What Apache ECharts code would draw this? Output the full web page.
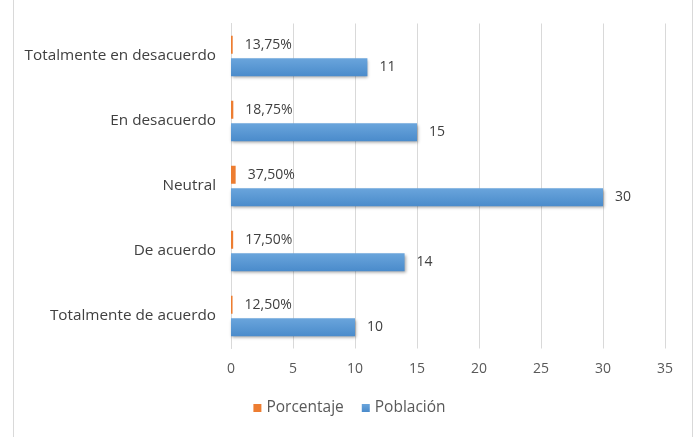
<!DOCTYPE html>
<html><head><meta charset="utf-8">
<script src="https://cdn.jsdelivr.net/npm/echarts@6/dist/echarts.min.js"></script>
<style>html,body{margin:0;padding:0;background:#fff}#c{width:699px;height:437px}</style>
</head><body><div id="c"></div>
<script>
const categories = ['Totalmente en desacuerdo', 'En desacuerdo', 'Neutral', 'De acuerdo', 'Totalmente de acuerdo'];
const porcentaje = [0.1375, 0.1875, 0.375, 0.175, 0.125];
const poblacion = [11, 15, 30, 14, 10];
const xTicks = [0, 5, 10, 15, 20, 25, 30, 35];

const FONT = 'Open Sans';
const chart = echarts.init(document.getElementById('c'));
chart.setOption({
  animation: false,
  textStyle: { fontFamily: FONT },
  graphic: [{ type: 'rect', shape: { x: 13.5, y: -1, width: 679, height: 439 }, style: { fill: 'none', stroke: '#d9d9d9', lineWidth: 1 } }],
  grid: { left: 231, right: 34, top: 23.5, bottom: 88.5 },
  legend: {
    data: ['Porcentaje', 'Población'], bottom: 16, left: 'center', itemWidth: 8, itemHeight: 8, itemGap: 18,
    textStyle: { fontFamily: FONT, fontSize: 15.5, color: '#595959' }, icon: 'rect'
  },
  xAxis: {
    type: 'value', min: xTicks[0], max: xTicks[xTicks.length - 1], interval: 5,
    axisLine: { show: false }, axisTick: { show: false },
    splitLine: { lineStyle: { color: '#d9d9d9' } },
    axisLabel: { fontFamily: FONT, fontSize: 14, color: '#595959', margin: 14 }
  },
  yAxis: {
    type: 'category', data: categories, inverse: true,
    axisLine: { lineStyle: { color: '#d9d9d9' } }, axisTick: { show: false },
    axisLabel: { fontFamily: FONT, fontSize: 15.3, color: '#404040', margin: 15 }
  },
  series: [
    {
      name: 'Porcentaje', type: 'bar', data: porcentaje, barWidth: 18, barGap: '25%',
      itemStyle: { color: '#ED7D31' },
      label: { show: true, position: 'right', distance: 12, fontFamily: FONT, fontSize: 14, color: '#404040',
        formatter: p => (p.value * 100).toFixed(2).replace('.', ',') + '%' }
    },
    {
      name: 'Población', type: 'bar', data: poblacion, barWidth: 18,
      itemStyle: {
        color: new echarts.graphic.LinearGradient(0, 0, 0, 1, [{ offset: 0, color: '#6AA5DC' }, { offset: 1, color: '#4A8BCB' }]),
        shadowColor: 'rgba(0,0,0,0.35)', shadowBlur: 3, shadowOffsetX: 1, shadowOffsetY: 2
      },
      label: { show: true, position: 'right', distance: 12, fontFamily: FONT, fontSize: 14, color: '#404040' }
    }
  ]
});
</script></body></html>
